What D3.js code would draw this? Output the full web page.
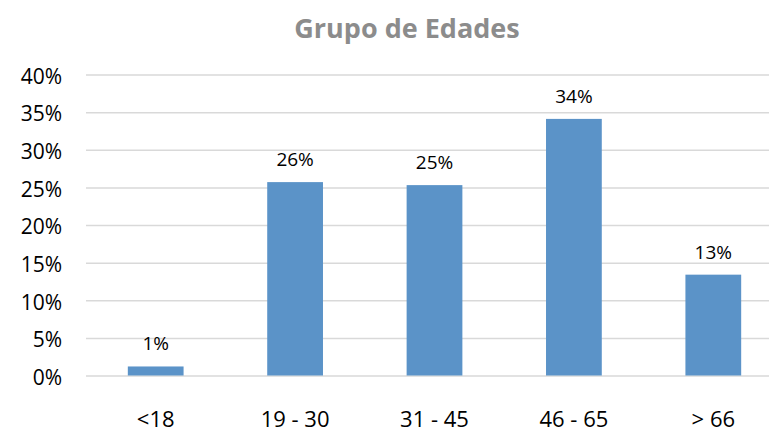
<!DOCTYPE html>
<html>
<head>
<meta charset="utf-8">
<script src="https://cdn.jsdelivr.net/npm/d3@7"></script>
<style>
html,body{margin:0;padding:0;background:#fff;}
svg{display:block;font-family:"Open Sans",sans-serif;}
</style>
</head>
<body>
<svg id="chart" width="769" height="432"></svg>
<script>
const title = "Grupo de Edades";
const categories = ["<18", "19 - 30", "31 - 45", "46 - 65", "> 66"];
const values = [1.2, 25.7, 25.3, 34.1, 13.4];
const valueLabels = ["1%", "26%", "25%", "34%", "13%"];
const yTicks = [0, 5, 10, 15, 20, 25, 30, 35, 40];

const svg = d3.select("#chart");
const margin = {left: 86, right: -14, top: 74.5, bottom: 56.5};
const W = 769, H = 432;

const x = d3.scaleBand().domain(categories)
  .range([margin.left, W - margin.right])
  .paddingInner(0.6).paddingOuter(0.3);
const y = d3.scaleLinear().domain([0, 40]).range([H - margin.bottom, margin.top]);

// gridlines
const gAxis = svg.append("g").attr("transform", `translate(${margin.left},0)`)
  .call(d3.axisLeft(y).tickValues(yTicks).tickFormat(d => d + "%")
    .tickSize(-(W - margin.left)).tickPadding(24));
gAxis.select(".domain").remove();
gAxis.selectAll(".tick line").attr("stroke", "#d9d9d9").attr("stroke-width", 1.5);
gAxis.selectAll(".tick text").attr("fill", "#000").attr("dy", "0.42em")
  .style("font-size", "21px").style("font-family", "'Open Sans',sans-serif");

// bars
svg.append("g").selectAll("rect").data(values).join("rect")
  .attr("x", (d, i) => x(categories[i]))
  .attr("width", x.bandwidth())
  .attr("y", d => y(d))
  .attr("height", d => y(0) - y(d))
  .attr("fill", "#5b93c8");

// value labels
svg.append("g").selectAll("text").data(values).join("text")
  .attr("x", (d, i) => x(categories[i]) + x.bandwidth() / 2)
  .attr("y", d => y(d) - 16)
  .attr("text-anchor", "middle")
  .attr("fill", "#000")
  .style("font-size", "19px")
  .text((d, i) => valueLabels[i]);

// x axis
const gx = svg.append("g").attr("transform", `translate(0,${y(0)})`)
  .call(d3.axisBottom(x).tickSize(0).tickPadding(0));
gx.select(".domain").remove();
gx.selectAll(".tick text").attr("fill", "#000").attr("dy", null).attr("y", 51.5)
  .style("font-size", "22px").style("font-family", "'Open Sans',sans-serif");

// title
svg.append("text").attr("x", 407).attr("y", 38).attr("text-anchor", "middle")
  .attr("fill", "#8c8c8c").style("font-size", "27px").style("font-weight", "bold")
  .text(title);
</script>
</body>
</html>
